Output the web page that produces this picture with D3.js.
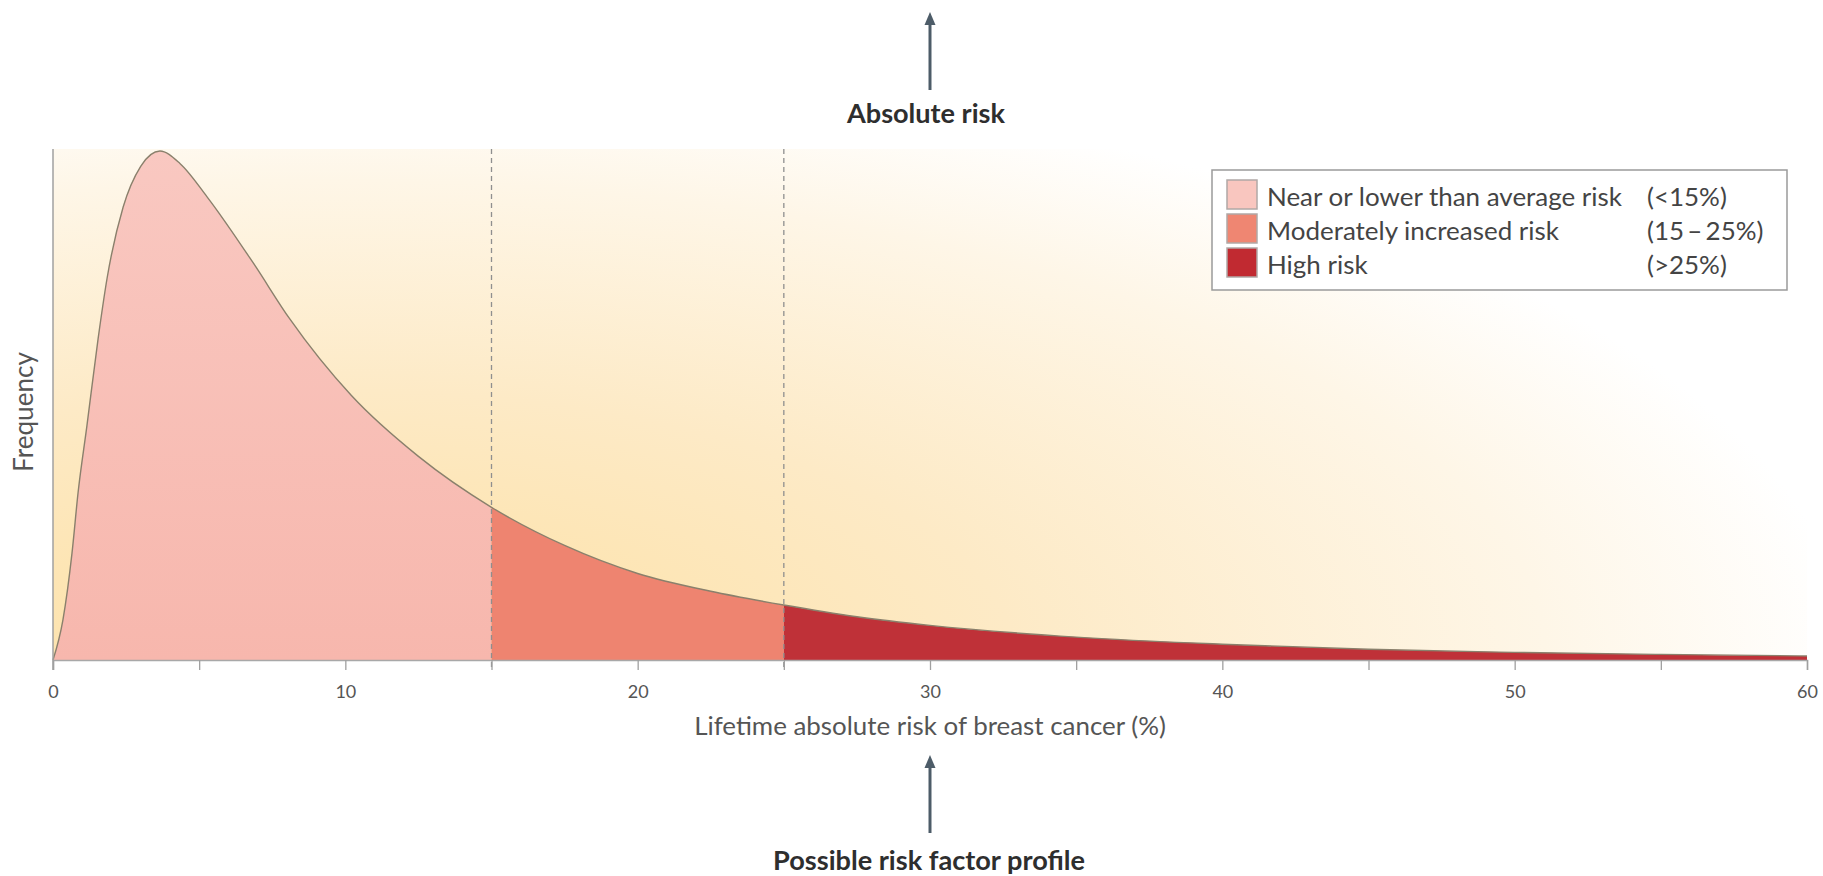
<!DOCTYPE html>
<html><head><meta charset="utf-8">
<script src="https://cdn.jsdelivr.net/npm/d3@7"></script>
<style>body{margin:0;background:#fff;} svg{display:block;}</style>
</head><body>
<svg id="c" width="1823" height="876"></svg>
<script>
// ---- data ----
const riskPct   = [0, 0.34, 0.65, 0.86, 1.16, 1.54, 1.85, 2.4, 3.0, 3.66, 4.35, 5.27, 6.85, 8.1, 10.2, 12.5, 15, 17.5, 20, 22.5, 25, 27.5, 30, 35, 40, 45, 50, 55, 60];
const frequency = [0, 0.079, 0.21, 0.33, 0.46, 0.63, 0.75, 0.89, 0.97, 1.0, 0.975, 0.91, 0.78, 0.67, 0.52, 0.40, 0.30, 0.225, 0.17, 0.135, 0.108, 0.085, 0.068, 0.045, 0.031, 0.021, 0.015, 0.011, 0.008];
const bandLabels = ["Near or lower than average risk", "Moderately increased risk", "High risk"];
const bandRanges = ["(<15%)", "(15\u2009\u2013\u200925%)", "(>25%)"];
const bandStart  = [0, 15, 25];
const bandEnd    = [15, 25, 60];
const bandColors = ["#f8bdb4", "#ee8470", "#bf3138"];
const xTickLabels = [0, 10, 20, 30, 40, 50, 60];
const xMinorTicks = [0, 5, 10, 15, 20, 25, 30, 35, 40, 45, 50, 55, 60];
const xTitle = "Lifetime absolute risk of breast cancer (%)";
const yTitle = "Frequency";
const topNote = "Absolute risk";
const bottomNote = "Possible risk factor profile";

// ---- layout ----
const svg = d3.select("#c");
const L = 53, R = 1807, T = 149, B = 660;
const x = d3.scaleLinear().domain([0, 60]).range([L, R]);
const y = d3.scaleLinear().domain([0, 1]).range([B, 151]);
const FONT = "Lato, 'Open Sans', sans-serif";

function fit(sel, w) {
  const n = sel.node();
  const fs = parseFloat(sel.attr("font-size"));
  const len = n.getComputedTextLength();
  sel.attr("font-size", (fs * w / len).toFixed(2));
  return sel;
}

const defs = svg.append("defs");
const bg = defs.append("radialGradient").attr("id", "bg")
  .attr("gradientUnits", "userSpaceOnUse")
  .attr("cx", 0).attr("cy", 0).attr("r", 1)
  .attr("gradientTransform", `translate(330,${B}) scale(1520,600)`);
bg.append("stop").attr("offset", 0).attr("stop-color", "#fde0a2");
bg.append("stop").attr("offset", 0.45).attr("stop-color", "#fdeac6");
bg.append("stop").attr("offset", 0.8).attr("stop-color", "#fef6e7");
bg.append("stop").attr("offset", 1).attr("stop-color", "#ffffff");

const pg = defs.append("linearGradient").attr("id", "pg").attr("x1", 0).attr("y1", 0).attr("x2", 0).attr("y2", 1);
pg.append("stop").attr("offset", 0).attr("stop-color", "#f9c8c1");
pg.append("stop").attr("offset", 1).attr("stop-color", "#f7b7ad");
const fills = ["url(#pg)", bandColors[1], bandColors[2]];

svg.append("rect").attr("x", L).attr("y", T).attr("width", R - L).attr("height", B - T).attr("fill", "url(#bg)");

const pts = riskPct.map((d, i) => [d, frequency[i]]);
const area = d3.area().x(d => x(d[0])).y0(B).y1(d => y(d[1])).curve(d3.curveMonotoneX);
const line = d3.line().x(d => x(d[0])).y(d => y(d[1])).curve(d3.curveMonotoneX);

bandStart.forEach((s, i) => {
  defs.append("clipPath").attr("id", "clip" + i).append("rect")
    .attr("x", x(s)).attr("y", T - 5).attr("width", x(bandEnd[i]) - x(s)).attr("height", B - T + 5);
  svg.append("path").datum(pts).attr("d", area).attr("fill", fills[i]).attr("clip-path", `url(#clip${i})`);
});

// dashed dividers
[15, 25].forEach(v => {
  svg.append("line").attr("x1", x(v)).attr("x2", x(v)).attr("y1", T).attr("y2", B + 8)
    .attr("stroke", "#8f8f8f").attr("stroke-width", 1.3).attr("stroke-dasharray", "5,4");
});

svg.append("path").datum(pts).attr("d", line).attr("fill", "none").attr("stroke", "#8a806c").attr("stroke-width", 1.4);

// axes
const xAxis = svg.append("g").attr("transform", `translate(0,${B})`)
  .call(d3.axisBottom(x).tickValues(xMinorTicks).tickSize(10).tickFormat(d => xTickLabels.includes(d) ? d : ""));
xAxis.select(".domain").attr("stroke", "#a8a8a8").attr("stroke-width", 1.5);
xAxis.selectAll(".tick line").attr("stroke", "#a0a0a0").attr("stroke-width", 1.3);
xAxis.selectAll(".tick text").attr("font-family", FONT).attr("font-size", 18).attr("fill", "#555").attr("dy", "0").attr("y", 38);

svg.append("line").attr("x1", L).attr("x2", L).attr("y1", T).attr("y2", B + 10).attr("stroke", "#a0a0a0").attr("stroke-width", 1.5);

// titles
fit(svg.append("text").attr("x", x(30)).attr("y", 735).attr("text-anchor", "middle")
  .attr("font-family", FONT).attr("font-size", 20).attr("fill", "#555").text(xTitle), 472);
fit(svg.append("text").attr("transform", "translate(33,412) rotate(-90)").attr("text-anchor", "middle")
  .attr("font-family", FONT).attr("font-size", 20).attr("fill", "#555").text(yTitle), 120);
fit(svg.append("text").attr("x", 926).attr("y", 123).attr("text-anchor", "middle")
  .attr("font-family", FONT).attr("font-weight", "bold").attr("font-size", 20).attr("fill", "#2e2e2e").text(topNote), 158);
fit(svg.append("text").attr("x", 929).attr("y", 870).attr("text-anchor", "middle")
  .attr("font-family", FONT).attr("font-weight", "bold").attr("font-size", 20).attr("fill", "#2e2e2e").text(bottomNote), 312);

// arrows
function arrow(xp, tip, tail) {
  svg.append("line").attr("x1", xp).attr("x2", xp).attr("y1", tip + 10).attr("y2", tail)
    .attr("stroke", "#4d5c68").attr("stroke-width", 3);
  svg.append("path").attr("d", `M${xp},${tip} L${xp - 5.5},${tip + 13} L${xp + 5.5},${tip + 13} Z`).attr("fill", "#4d5c68");
}
arrow(x(30), 12, 90);
arrow(x(30), 755, 833);

// legend
const lg = svg.append("g");
lg.append("rect").attr("x", 1212).attr("y", 170).attr("width", 575).attr("height", 120)
  .attr("fill", "#fff").attr("stroke", "#9a9a9a").attr("stroke-width", 1.5);
const lgFill = ["#f9c6bf", "#ef8672", "#c12a31"];
bandLabels.forEach((lab, i) => {
  const yy = 180 + i * 34;
  lg.append("rect").attr("x", 1227).attr("y", yy).attr("width", 30).attr("height", 29)
    .attr("fill", lgFill[i]).attr("stroke", "#b0a8a6").attr("stroke-width", 1.5);
  const t = lg.append("text").attr("x", 1267).attr("y", yy + 26).attr("font-family", FONT)
    .attr("font-size", 20).attr("fill", "#444").text(lab);
  if (i === 0) fit(t, 355);
  lg.append("text").attr("x", 1647).attr("y", yy + 26).attr("font-family", FONT)
    .attr("font-size", 20).attr("fill", "#444").text(bandRanges[i]);
});
const lfs = lg.select("text").attr("font-size");
lg.selectAll("text").attr("font-size", lfs);
</script>
</body></html>
